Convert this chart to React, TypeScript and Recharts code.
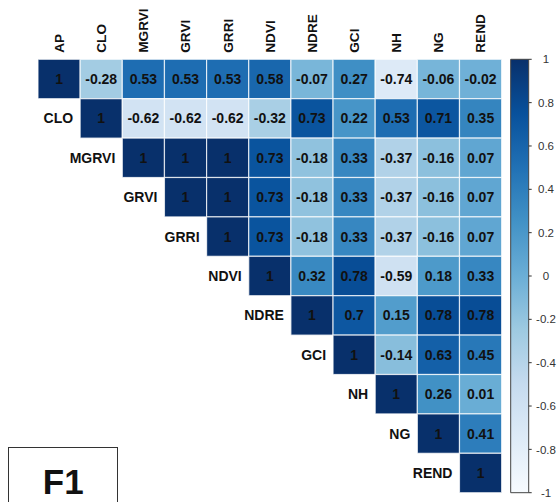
import React from "react";
import { ScatterChart, Scatter, XAxis, YAxis, ReferenceArea } from "recharts";

const VARS = ["AP", "CLO", "MGRVI", "GRVI", "GRRI", "NDVI", "NDRE", "GCI", "NH", "NG", "REND"];

// upper triangle, row by row, starting at the diagonal
const AP = [1, -0.28, 0.53, 0.53, 0.53, 0.58, -0.07, 0.27, -0.74, -0.06, -0.02];
const CLO = [1, -0.62, -0.62, -0.62, -0.32, 0.73, 0.22, 0.53, 0.71, 0.35];
const MGRVI = [1, 1, 1, 0.73, -0.18, 0.33, -0.37, -0.16, 0.07];
const GRVI = [1, 1, 0.73, -0.18, 0.33, -0.37, -0.16, 0.07];
const GRRI = [1, 0.73, -0.18, 0.33, -0.37, -0.16, 0.07];
const NDVI = [1, 0.32, 0.78, -0.59, 0.18, 0.33];
const NDRE = [1, 0.7, 0.15, 0.78, 0.78];
const GCI = [1, -0.14, 0.63, 0.45];
const NH = [1, 0.26, 0.01];
const NG = [1, 0.41];
const REND = [1];
const ROWS = [AP, CLO, MGRVI, GRVI, GRRI, NDVI, NDRE, GCI, NH, NG, REND];

const LEGEND_TICKS = [-1, -0.8, -0.6, -0.4, -0.2, 0, 0.2, 0.4, 0.6, 0.8, 1];

// RColorBrewer "Blues", spread over -1..1
const BLUES = ["#F7FBFF", "#DEEBF7", "#C6DBEF", "#9ECAE1", "#6BAED6", "#4292C6", "#2171B5", "#08519C", "#08306B"];

const FONT = "'Liberation Sans', Arial, sans-serif";

const W = 558;
const H = 502;
const M_LEFT = 38;
const TOP = 59.3;
const BOTTOM = 492.7;
const CB_AXIS_W = 29.3;
const X_MIN = -0.5;
const X_MAX = 11.142;
const CB_X1 = 10.715;

const PLOT_W = W - M_LEFT - CB_AXIS_W;
const CELL_W = PLOT_W / (X_MAX - X_MIN);
const CELL_H = (BOTTOM - TOP) / VARS.length;

function hex(c: string) {
  return [1, 3, 5].map((i) => parseInt(c.slice(i, i + 2), 16));
}

function blues(v: number) {
  const t = ((v + 1) / 2) * (BLUES.length - 1);
  const i = Math.min(Math.floor(t), BLUES.length - 2);
  const f = t - i;
  const a = hex(BLUES[i]);
  const b = hex(BLUES[i + 1]);
  const m = a.map((ch, k) => Math.round(ch + (b[k] - ch) * f));
  return `rgb(${m[0]},${m[1]},${m[2]})`;
}

const cells = ROWS.flatMap((row, r) =>
  row.map((v, k) => ({ x: r + k, y: r, v }))
);
const diag = VARS.map((name, i) => ({ x: i, y: i, name }));
const legendPts = LEGEND_TICKS.map((t) => ({ x: X_MAX, c: t }));

const Cell = (props: any) => {
  const { cx, cy, payload } = props;
  return (
    <g>
      <rect
        x={cx - CELL_W / 2}
        y={cy - CELL_H / 2}
        width={CELL_W}
        height={CELL_H}
        fill={blues(payload.v)}
        stroke="#ffffff"
        strokeOpacity={0.75}
        strokeWidth={1.2}
      />
      <text
        x={cx}
        y={cy}
        dy="0.36em"
        textAnchor="middle"
        fontFamily={FONT}
        fontWeight="bold"
        fontSize={14}
        fill="#111"
      >
        {String(payload.v)}
      </text>
    </g>
  );
};

const RowLabel = (props: any) => {
  const { cx, cy, payload } = props;
  return (
    <text
      x={cx - CELL_W / 2 - 7}
      y={cy}
      dy="0.36em"
      textAnchor="end"
      fontFamily={FONT}
      fontWeight="bold"
      fontSize={14}
      fill="#111"
    >
      {payload.name}
    </text>
  );
};

const TopTick = (props: any) => {
  const { x, y, payload } = props;
  return (
    <text
      transform={`translate(${x},${y}) rotate(-90)`}
      dy="0.36em"
      textAnchor="start"
      fontFamily={FONT}
      fontWeight="bold"
      fontSize={13.6}
      fill="#111"
    >
      {VARS[payload.value]}
    </text>
  );
};

const LegendTick = (props: any) => {
  const { x, y, payload } = props;
  return (
    <text x={x + 12.3} y={y} dy="0.36em" textAnchor="middle" fontFamily={FONT} fontSize={11.5} fill="#333">
      {String(payload.value)}
    </text>
  );
};

export default function App() {
  return (
    <div style={{ position: "absolute", left: 0, top: 0, width: W, height: H, overflow: "hidden", background: "#fff" }}>
      <ScatterChart width={W} height={H} margin={{ top: 0, right: 0, bottom: H - BOTTOM, left: M_LEFT }}>
        <defs>
          <linearGradient id="bluesBar" x1="0" y1="1" x2="0" y2="0">
            {BLUES.map((c, i) => (
              <stop key={c} offset={`${(i / (BLUES.length - 1)) * 100}%`} stopColor={c} />
            ))}
          </linearGradient>
        </defs>
        <XAxis
          type="number"
          dataKey="x"
          orientation="top"
          domain={[X_MIN, X_MAX]}
          ticks={VARS.map((_, i) => i)}
          allowDataOverflow
          height={TOP}
          tickSize={0}
          tickMargin={6.6}
          axisLine={false}
          tickLine={false}
          tick={<TopTick />}
          interval={0}
        />
        <YAxis yAxisId="m" type="number" dataKey="y" domain={[-0.5, VARS.length - 0.5]} reversed hide allowDataOverflow />
        <YAxis
          yAxisId="cb"
          type="number"
          dataKey="c"
          orientation="right"
          domain={[-1, 1]}
          ticks={LEGEND_TICKS}
          allowDataOverflow
          interval={0}
          width={CB_AXIS_W}
          axisLine={false}
          tickSize={3}
          tickMargin={2}
          tickLine={{ stroke: "#333" }}
          tick={<LegendTick />}
        />
        <ReferenceArea
          yAxisId="cb"
          x1={CB_X1}
          x2={X_MAX}
          y1={-1}
          y2={1}
          fill="url(#bluesBar)"
          fillOpacity={1}
          stroke="#444"
          strokeWidth={1}
          ifOverflow="visible"
        />
        <Scatter yAxisId="m" data={cells} shape={<Cell />} isAnimationActive={false} />
        <Scatter yAxisId="m" data={diag} shape={<RowLabel />} isAnimationActive={false} />
        <Scatter yAxisId="cb" data={legendPts} shape={() => <g />} isAnimationActive={false} />
      </ScatterChart>
      <div
        style={{
          position: "absolute",
          left: 8.3,
          top: 446.7,
          width: 110,
          height: 70,
          border: "1px solid #333",
          boxSizing: "border-box",
          fontFamily: FONT,
          fontWeight: "bold",
          fontSize: 35,
          color: "#111",
          textAlign: "center",
          lineHeight: "1",
          paddingTop: 16,
        }}
      >
        F1
      </div>
    </div>
  );
}
